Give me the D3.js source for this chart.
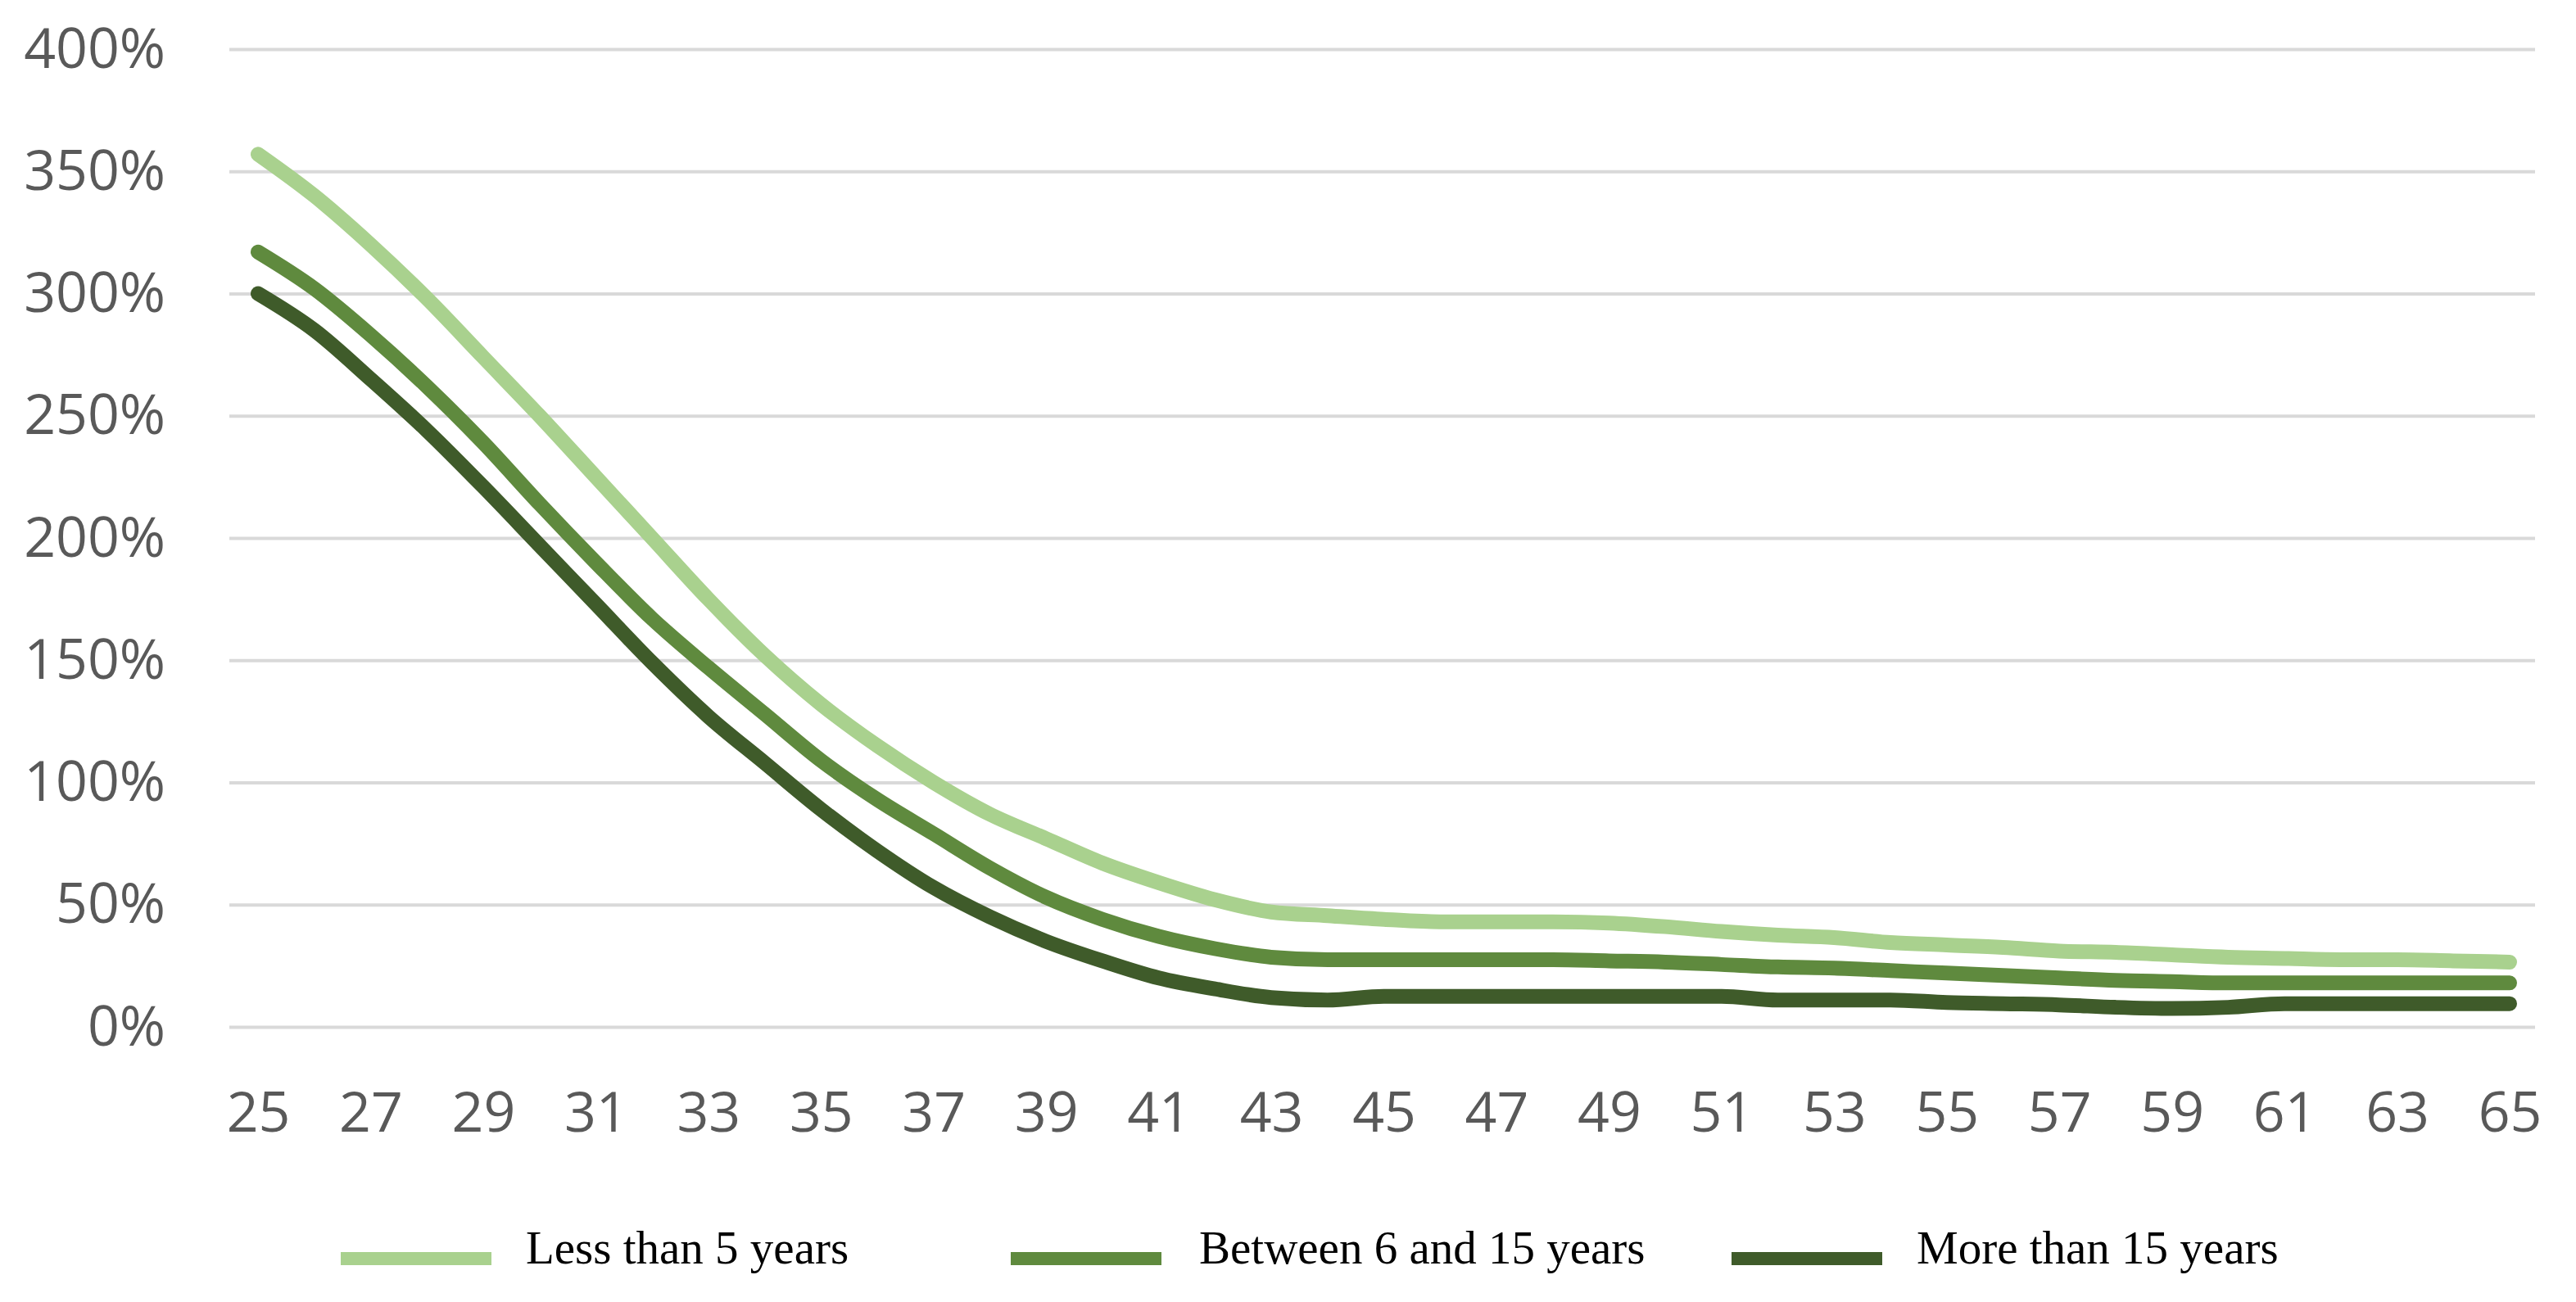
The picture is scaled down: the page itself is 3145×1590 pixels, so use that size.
<!DOCTYPE html>
<html>
<head>
<meta charset="utf-8">
<script src="https://cdn.jsdelivr.net/npm/d3@7"></script>
<style>
    body { margin: 0; background: #fff; }
    svg { display: block; }
</style>
</head>
<body>
<svg width="3145" height="1590"></svg>
<script>
// ages on the category axis
const ages = [25, 26, 27, 28, 29, 30, 31, 32, 33, 34, 35, 36, 37, 38, 39, 40, 41, 42, 43, 44, 45,
    46, 47, 48, 49, 50, 51, 52, 53, 54, 55, 56, 57, 58, 59, 60, 61, 62, 63, 64, 65];

// values in %
const lessThan5 = [357, 340, 320, 298, 274, 250, 225, 200, 175, 152, 132, 115, 100, 87, 77, 67, 59, 52, 47, 45.5, 44,
    43, 43, 43, 42.5, 41, 39, 37.5, 36.5, 34.5, 33.5, 32.5, 31, 30.5, 29.5, 28.5, 28, 27.5, 27.5, 27, 26.5];
const between6and15 = [317, 302, 283, 262, 239, 214, 190, 167, 147, 128, 109, 93, 79, 65, 53, 44, 37, 32, 28.5, 27.5, 27.5,
    27.5, 27.5, 27.5, 27, 26.5, 25.5, 24.5, 24, 23, 22, 21, 20, 19, 18.5, 18, 18, 18, 18, 18, 18];
const moreThan15 = [300, 285, 265, 244, 221, 197, 173, 149, 127, 108, 89, 72, 57, 45, 35, 27, 20, 15.5, 12, 11, 12.5,
    12.5, 12.5, 12.5, 12.5, 12.5, 12.5, 11, 11, 11, 10, 9.5, 9, 8, 7.5, 8, 9.5, 9.5, 9.5, 9.5, 9.5];

const seriesNames = ["Less than 5 years", "Between 6 and 15 years", "More than 15 years"];
const seriesColors = ["#a9d18e", "#5f8a3e", "#3f5b2a"];

const yTicks = [0, 50, 100, 150, 200, 250, 300, 350, 400];
const xTicks = [25, 27, 29, 31, 33, 35, 37, 39, 41, 43, 45, 47, 49, 51, 53, 55, 57, 59, 61, 63, 65];

const svg = d3.select("svg");

const x = d3.scaleLinear().domain([25, 65]).range([315, 3064]);
const y = d3.scaleLinear().domain([0, 400]).range([1254, 60]);

const gridLeft = 280, gridRight = 3095;

// horizontal gridlines
const grid = svg.append("g")
    .attr("transform", `translate(${gridRight},0)`)
    .call(d3.axisLeft(y).tickValues(yTicks).tickSize(gridRight - gridLeft).tickFormat(""));
grid.select(".domain").remove();
grid.selectAll("line").attr("stroke", "#d9d9d9").attr("stroke-width", 4);

// y labels
const yAxis = svg.append("g")
    .attr("transform", "translate(202,0)")
    .call(d3.axisLeft(y).tickValues(yTicks).tickSize(0).tickPadding(0).tickFormat(d => d + "%"));
yAxis.select(".domain").remove();
yAxis.selectAll("text")
    .attr("dy", 0).attr("y", 22)
    .attr("fill", "#595959")
    .style("font-family", "'Open Sans', sans-serif")
    .style("font-size", "68px");

// x labels
const xAxis = svg.append("g")
    .attr("transform", "translate(0,1382)")
    .call(d3.axisBottom(x).tickValues(xTicks).tickSize(0).tickPadding(0).tickFormat(d => d));
xAxis.select(".domain").remove();
xAxis.selectAll("text")
    .attr("dy", 0).attr("y", 0)
    .attr("fill", "#595959")
    .style("font-family", "'Open Sans', sans-serif")
    .style("font-size", "68px");

const series = [lessThan5, between6and15, moreThan15];

const line = d3.line()
    .x((d, i) => x(ages[i]))
    .y(d => y(d))
    .curve(d3.curveMonotoneX);

svg.append("g").selectAll("path")
    .data(series)
    .enter()
    .append("path")
    .attr("d", d => line(d))
    .attr("fill", "none")
    .attr("stroke", (d, i) => seriesColors[i])
    .attr("stroke-width", 18)
    .attr("stroke-linecap", "round")
    .attr("stroke-linejoin", "round");

// legend
const legendLineX = [416, 1234, 2114];
const legendLineW = 184;
const legendY = 1537;

const legend = svg.append("g").selectAll("g")
    .data(seriesNames)
    .enter()
    .append("g")
    .attr("transform", (d, i) => `translate(${legendLineX[i]},${legendY})`);

legend.append("line")
    .attr("x1", 0).attr("x2", legendLineW)
    .attr("y1", 0).attr("y2", 0)
    .attr("stroke", (d, i) => seriesColors[i])
    .attr("stroke-width", 16);

legend.append("text")
    .attr("x", (d, i) => legendLineW + (i === 1 ? 46 : 42))
    .attr("y", 6)
    .attr("fill", "#000")
    .style("font-family", "'Liberation Serif', 'Times New Roman', serif")
    .style("font-size", "57px")
    .text(d => d);
</script>
</body>
</html>
